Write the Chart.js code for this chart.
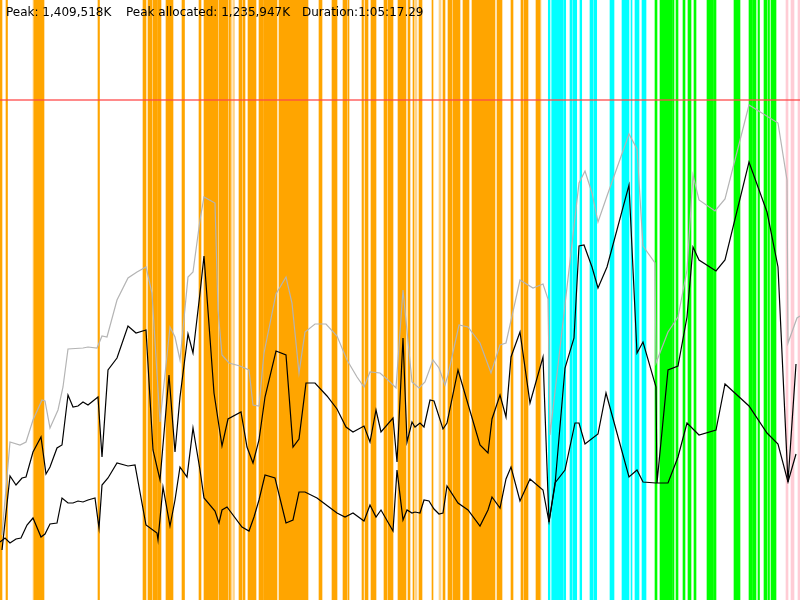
<!DOCTYPE html>
<html>
<head>
<meta charset="utf-8">
<title>Memory usage</title>
<script src="https://cdn.jsdelivr.net/npm/chart.js@4.4.1/dist/chart.umd.min.js"></script>
<style>
  body { margin: 0; background: #fff; }
  #wrap { position: relative; width: 800px; height: 600px; }
  .info { position: absolute; top: 5px; font: 12px 'DejaVu Sans', sans-serif; line-height: 14px; white-space: pre; color: #000; }
</style>
</head>
<body>
<div id="wrap">
  <canvas id="chart1"></canvas>
  <span class="info" style="left: 6px;">Peak: 1,409,518K</span>
  <span class="info" style="left: 126px;">Peak allocated: 1,235,947K</span>
  <span class="info" style="left: 302px;">Duration:1:05:17.29</span>
</div>
<script>
// time runs 0..800 samples, memory in units where the peak is 500
var timeMax = 800;
var memMax = 600;
var peakLevel = 500;

// phase bands [start, end] along the time axis
var orangeBands = [[0,2],[6,7.5],[34,44],[98,99.5],[143,146],[148,152],[153,157],[157.5,161],[166,173],
  [182,184.5],[199,201],[204,218],[219,228],[229,230.5],[239,242],[243,245],[248,256],[259,263],
  [263.5,277],[279,308],[319,322],[332,337],[343,347],[348,349],[362,363.5],[365,368],[371,376],
  [384,387],[388,393],[398,406],[408,410],[413,414],[419,422],[432,433],[443,445],[448,452],
  [453,460],[463,469],[472,495],[497,502],[511,513],[521,523],[524,528],[536,540]];
var paleOrangeBands = [[33,34],[231,232],[233,234.5],[415,417],[439,441],[540,541]];
var cyanBands = [[548.3,550],[551.7,563.3],[564,565.7],[570,571.7],[572.7,576.7],[580,581.7],[590,593.3],
  [594.3,596.7],[610,614],[622,629],[631,632],[635,639],[642,646]];
var greenBands = [[655,657],[660,672],[672.5,674],[676,678],[683,685],[688,691],[694,696],[707,713],
  [713.5,716],[734,740],[749,752],[752.5,756],[758,759.5],[764,767],[768,769.5],[771,776]];
var pinkBands = [[786,788],[791,794],[798,800]];

// [time, memory]
var committed = [[2,65],[10,158],[20,155],[26,158],[33,180],[42,200],[45,199],[50,172],[58,190],[63,213],
  [68,251],[83,252],[88,253],[97,252],[102,264],[107,263],[117,300],[128,322],[137,328],[146,333],
  [152,307],[160,178],[170,273],[175,263],[180,240],[188,323],[193,328],[200,380],[204,403],[215,397],
  [218,290],[222,245],[229,237],[240,234],[249,230],[253,195],[259,194],[264,247],[276,306],[286,323],
  [292,297],[299,227],[305,268],[315,276],[326,276],[337,264],[347,240],[357,223],[364,213],[370,228],
  [380,227],[388,220],[396,212],[403,310],[412,218],[419,212],[425,218],[433,240],[439,232],[445,215],
  [448,225],[459,275],[468,273],[480,257],[491,227],[500,255],[506,257],[520,320],[533,312],[543,316],
  [548,301],[550,165],[579,417],[585,429],[592,407],[598,378],[607,404],[629,466],[637,451],
  [643,354],[655,337],[656,237],[668,268],[678,283],[687,330],[693,425],[699,400],[715,389],[725,401],
  [749,495],[778,477],[787,420],[788,257],[797,282],[800,284]];

var allocated = [[2,50],[10,124],[16,115],[22,122],[26,123],[33,148],[41,163],[46,126],[50,133],[57,152],
  [62,155],[68,205],[73,193],[78,194],[83,198],[88,195],[98,203],[102,143],[108,230],[117,242],
  [128,274],[136,267],[146,270],[153,150],[160,120],[169,225],[175,148],[180,203],[188,266],[193,247],
  [200,307],[204,344],[214,207],[222,154],[228,181],[241,188],[247,153],[253,137],[259,160],[265,203],
  [276,249],[286,245],[293,153],[299,161],[306,217],[315,217],[327,204],[337,191],[346,173],[353,168],
  [364,174],[370,158],[376,190],[381,168],[393,182],[397,138],[403,262],[407,158],[412,178],[415,173],
  [420,177],[424,173],[430,200],[434,199],[443,171],[447,177],[458,230],[480,155],[488,147],[492,181],
  [500,205],[506,183],[511,243],[520,268],[530,197],[543,243],[549,78],[555,115],[565,232],[574,262],
  [579,354],[584,355],[592,333],[598,312],[607,333],[629,415],[637,247],[643,258],[656,213],[657,117],
  [668,230],[678,234],[687,283],[693,353],[699,340],[716,329],[725,340],[749,438],[767,388],[778,333],
  [788,118],[796,236]];

var used = [[0,58],[5,62],[10,57],[16,61],[21,62],[27,75],[33,82],[41,63],[45,66],[50,76],[57,77],
  [62,102],[68,97],[73,97],[78,99],[83,98],[88,100],[95,102],[99,72],[102,115],[108,122],[117,137],
  [128,134],[135,135],[146,75],[157,67],[158,60],[163,113],[170,74],[175,100],[180,133],[187,123],
  [193,172],[200,130],[204,102],[215,89],[219,77],[222,90],[227,93],[242,73],[249,69],[254,83],
  [259,100],[265,125],[275,122],[286,77],[293,80],[299,108],[305,108],[317,102],[337,87],[345,83],
  [353,87],[364,79],[370,95],[376,83],[381,90],[393,69],[397,130],[403,80],[407,90],[412,87],
  [415,88],[420,87],[424,100],[429,99],[434,91],[439,86],[443,87],[447,114],[458,97],[468,90],
  [480,74],[488,90],[492,103],[500,92],[506,121],[511,133],[520,99],[530,121],[543,110],[549,78],
  [555,117],[565,130],[575,177],[579,177],[585,156],[598,166],[606,207],[629,123],[637,130],
  [643,118],[656,117],[668,117],[678,143],[687,177],[699,165],[716,170],[725,216],[749,194],[767,167],
  [778,156],[788,118],[796,146]];

function toPoints(list) {
    return list.map(function (p) { return { x: p[0], y: p[1] }; });
}

function bandSet(bands, color) {
    return {
        type: 'bar',
        indexAxis: 'y',
        xAxisID: 'x',
        yAxisID: 'band',
        data: bands.map(function (b) { return { x: b, y: 'run' }; }),
        backgroundColor: color,
        borderWidth: 0,
        grouped: false,
        categoryPercentage: 1,
        barPercentage: 1,
        order: 5
    };
}

function lineSet(points, color, width, order) {
    return {
        type: 'line',
        xAxisID: 'x',
        yAxisID: 'mem',
        data: toPoints(points),
        borderColor: color,
        borderWidth: width,
        pointRadius: 0,
        tension: 0,
        fill: false,
        order: order
    };
}

var ctx1 = document.getElementById('chart1').getContext('2d');
var chart1 = new Chart(ctx1, {
    type: 'line',
    data: {
        datasets: [
            lineSet([[0, peakLevel], [timeMax, peakLevel]], 'rgba(255,70,70,0.85)', 1.5, 1),
            lineSet(used, '#000000', 1.2, 1),
            lineSet(allocated, '#000000', 1.2, 1),
            lineSet(committed, '#b4b4b4', 1.2, 2),
            bandSet(orangeBands, '#ffa500'),
            bandSet(paleOrangeBands, '#ffd58a'),
            bandSet(cyanBands, '#00ffff'),
            bandSet(greenBands, '#00ff00'),
            bandSet(pinkBands, '#ffccd5')
        ]
    },
    options: {
        responsive: true,
        maintainAspectRatio: false,
        animation: false,
        layout: { padding: 0 },
        plugins: {
            legend: { display: false },
            tooltip: { enabled: false }
        },
        scales: {
            x: { type: 'linear', axis: 'x', position: 'bottom', min: 0, max: timeMax, display: false },
            mem: { type: 'linear', axis: 'y', position: 'left', min: 0, max: memMax, display: false },
            band: { type: 'category', axis: 'y', position: 'left', labels: ['run'], offset: true, display: false }
        }
    }
});
</script>
</body>
</html>
